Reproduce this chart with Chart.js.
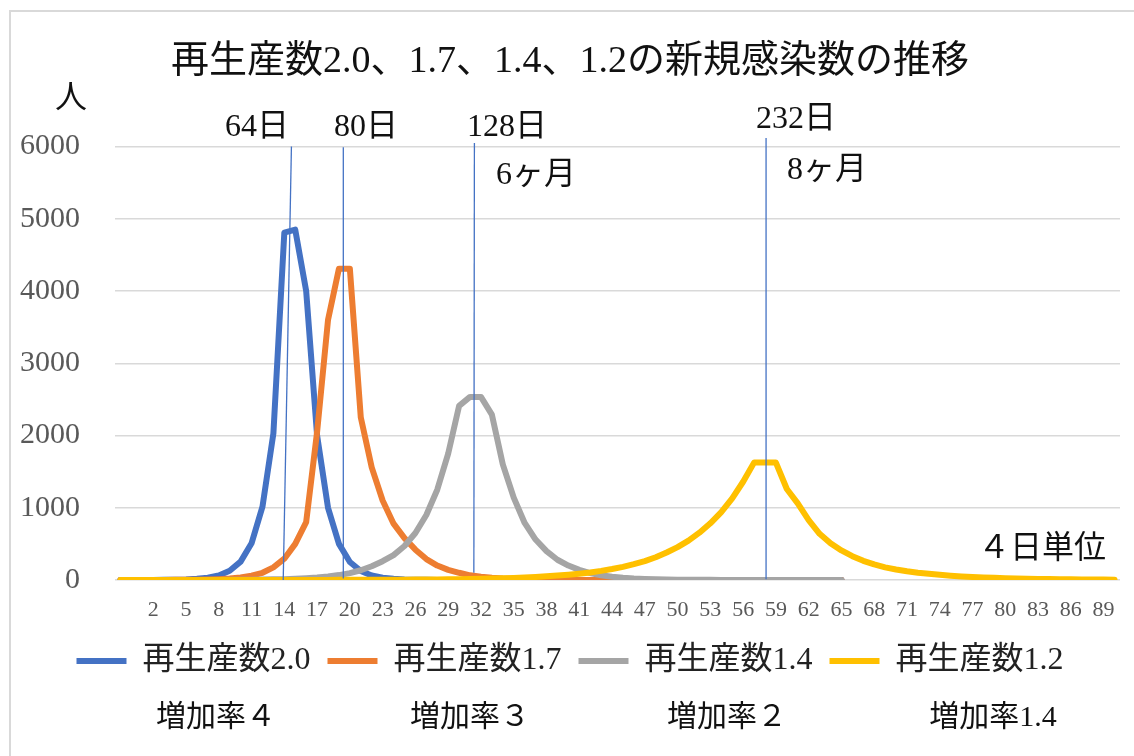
<!DOCTYPE html>
<html lang="ja">
<head>
<meta charset="utf-8">
<title>再生産数と新規感染数の推移</title>
<script src="https://cdn.jsdelivr.net/npm/chart.js@4.4.1/dist/chart.umd.min.js"></script>
<style>
    html, body { margin: 0; padding: 0; background: #fff; overflow: hidden; }
    #frame { position: absolute; left: 9px; top: 10px; width: 1140px; height: 760px; border: 2px solid #d9d9d9; }
    #wrap { position: absolute; left: 0; top: 0; }
</style>
</head>
<body>
<div id="frame"></div>
<div id="wrap"><canvas id="grafico" width="1134" height="756"></canvas></div>
<script>
// Categories (4-day steps); first slot has no label
const dayLabels = ['', '0', '1', '2', '3', '4', '5', '6', '7', '8', '9',
    '10', '11', '12', '13', '14', '15', '16', '17', '18', '19',
    '20', '21', '22', '23', '24', '25', '26', '27', '28', '29',
    '30', '31', '32', '33', '34', '35', '36', '37', '38', '39',
    '40', '41', '42', '43', '44', '45', '46', '47', '48', '49',
    '50', '51', '52', '53', '54', '55', '56', '57', '58', '59',
    '60', '61', '62', '63', '64', '65', '66', '67', '68', '69',
    '70', '71', '72', '73', '74', '75', '76', '77', '78', '79',
    '80', '81', '82', '83', '84', '85', '86', '87', '88', '89', '90'];

const seriesNames = ['再生産数2.0', '再生産数1.7', '再生産数1.4', '再生産数1.2'];
const rateLabels = ['増加率４', '増加率３', '増加率２', '増加率1.4'];

// New infections per step
const r20 = [0, 0, 0, 1, 2, 4, 8, 16, 32, 63,
    127, 254, 508, 1015, 2030, 4810, 4850, 4000, 2000, 1000,
    500, 250, 125, 62, 31, 16, 8, 4, 2, 1,
    0, 0, 0, 0, 0, 0, 0, 0, 0, 0,
    0, 0, 0, 0, 0, 0, 0, 0, 0, 0,
    0, 0, 0, 0, 0, 0, 0, 0, 0, 0,
    0, 0, 0, 0, 0, 0, 0];

const r17 = [0, 0, 0, 1, 1, 2, 3, 4, 7, 12,
    20, 35, 60, 100, 175, 295, 500, 800, 2050, 3600,
    4310, 4310, 2250, 1560, 1100, 780, 580, 420, 290, 200,
    140, 100, 65, 45, 30, 20, 14, 10, 7, 5,
    3, 2, 1, 0, 0, 0, 0, 0, 0, 0,
    0, 0, 0, 0, 0, 0, 0, 0, 0, 0,
    0, 0, 0, 0, 0, 0, 0];

const r14 = [0, 0, 0, 0, 0, 0, 1, 1, 1, 1,
    2, 3, 4, 6, 9, 12, 17, 24, 34, 48,
    68, 95, 135, 190, 260, 345, 470, 650, 900, 1250,
    1750, 2410, 2535, 2535, 2290, 1600, 1140, 790, 560, 400,
    280, 200, 140, 95, 65, 45, 30, 20, 14, 10,
    7, 5, 3, 2, 2, 1, 1, 0, 0, 0,
    0, 0, 0, 0, 0, 0, 0];

const r12 = [0, 0, 0, 0, 0, 0, 0, 0, 0, 0,
    0, 0, 0, 0, 1, 1, 1, 1, 1, 1,
    2, 2, 2, 3, 3, 4, 5, 6, 7, 8,
    10, 12, 14, 17, 20, 24, 29, 35, 42, 51,
    61, 73, 88, 105, 126, 152, 182, 219, 262, 315,
    380, 455, 545, 655, 785, 940, 1130, 1360, 1625, 1625,
    1625, 1260, 1060, 830, 640, 510, 410, 330, 265, 215,
    175, 145, 120, 100, 85, 72, 60, 50, 42, 35,
    30, 25, 21, 18, 15, 13, 11, 9, 8, 7,
    6, 5];

const fontFamily = "'Liberation Serif', 'Noto Sans CJK JP', serif";

// Hand-drawn peak markers (category position / value at both ends)
const markers = [
    { x1: 15.65, y1: 6000, x2: 14.9, y2: 0 },
    { x1: 20.4, y1: 5990, x2: 20.4, y2: 20 },
    { x1: 32.4, y1: 6050, x2: 32.35, y2: 100 },
    { x1: 59.1, y1: 6120, x2: 59.1, y2: 10 }
];

// Free text boxes of the original sheet
const notes = [
    { text: '人', x: 71, y: 100, align: 'center' },
    { text: '64日', x: 257, y: 128, align: 'center' },
    { text: '80日', x: 366, y: 128, align: 'center' },
    { text: '128日', x: 507, y: 128, align: 'center' },
    { text: '6ヶ月', x: 536, y: 176, align: 'center' },
    { text: '232日', x: 796, y: 120, align: 'center' },
    { text: '8ヶ月', x: 827, y: 171, align: 'center' },
    { text: '４日単位', x: 1106, y: 550, align: 'right' }
];
const rateX = [216, 470, 727, 993];

const notesPlugin = {
    id: 'notes',
    afterDatasetsDraw(chart) {
        const { ctx, scales: { x, y } } = chart;
        ctx.save();
        ctx.strokeStyle = '#4472C4';
        ctx.lineWidth = 1.3;
        markers.forEach((m) => {
            ctx.beginPath();
            ctx.moveTo(x.getPixelForValue(m.x1), y.getPixelForValue(m.y1));
            ctx.lineTo(x.getPixelForValue(m.x2), y.getPixelForValue(m.y2));
            ctx.stroke();
        });
        ctx.restore();
    },
    afterDraw(chart) {
        const ctx = chart.ctx;
        ctx.save();
        ctx.fillStyle = '#111';
        ctx.textBaseline = 'middle';
        ctx.font = '32px ' + fontFamily;
        notes.forEach((n) => {
            ctx.textAlign = n.align;
            ctx.fillText(n.text, n.x, n.y);
        });
        ctx.font = '30px ' + fontFamily;
        ctx.textAlign = 'center';
        rateLabels.forEach((t, i) => ctx.fillText(t, rateX[i], 718));
        ctx.restore();
    }
};

function makeSet(label, data, color, order) {
    return {
        label: label,
        data: data,
        borderColor: color,
        backgroundColor: color,
        borderWidth: 6,
        pointRadius: 0,
        tension: 0,
        borderJoinStyle: 'round',
        borderCapStyle: 'round',
        order: order
    };
}

const contexto = document.getElementById('grafico').getContext('2d');
new Chart(contexto, {
    type: 'line',
    data: {
        labels: dayLabels,
        datasets: [
            makeSet(seriesNames[0], r20, '#4472C4', 3),
            makeSet(seriesNames[1], r17, '#ED7D31', 2),
            makeSet(seriesNames[2], r14, '#A5A5A5', 1),
            makeSet(seriesNames[3], r12, '#FFC000', 0)
        ]
    },
    options: {
        responsive: false,
        animation: false,
        layout: { padding: { left: 20, right: 14, top: 0, bottom: 69 } },
        plugins: {
            title: {
                display: true,
                text: '再生産数2.0、1.7、1.4、1.2の新規感染数の推移',
                color: '#111',
                font: { family: fontFamily, size: 38, weight: 'normal' },
                padding: { top: 39, bottom: 62 }
            },
            legend: {
                position: 'bottom',
                labels: {
                    usePointStyle: true,
                    pointStyle: 'line',
                    pointStyleWidth: 50,
                    color: '#222',
                    font: { family: fontFamily, size: 32 },
                    padding: 17,
                    sort: (a, b) => a.datasetIndex - b.datasetIndex
                }
            },
            tooltip: { enabled: false }
        },
        scales: {
            x: {
                offset: true,
                grid: { display: false, drawTicks: false },
                border: { display: false },
                afterFit: (scale) => { scale.height = 48; },
                ticks: {
                    autoSkip: false,
                    maxRotation: 0,
                    minRotation: 0,
                    color: '#595959',
                    font: { family: fontFamily, size: 22 },
                    padding: 17,
                    callback: function (value, index) {
                        return index > 0 && index % 3 === 0 ? this.getLabelForValue(value) : '';
                    }
                }
            },
            y: {
                min: 0,
                max: 6000,
                afterFit: (scale) => { scale.width = 95; },
                ticks: {
                    stepSize: 1000,
                    color: '#595959',
                    font: { family: fontFamily, size: 30 },
                    padding: 35,
                    callback: (value) => String(value)
                },
                grid: { color: '#d9d9d9', lineWidth: 1.5, drawTicks: false },
                border: { display: false }
            }
        }
    },
    plugins: [notesPlugin]
});
</script>
</body>
</html>
